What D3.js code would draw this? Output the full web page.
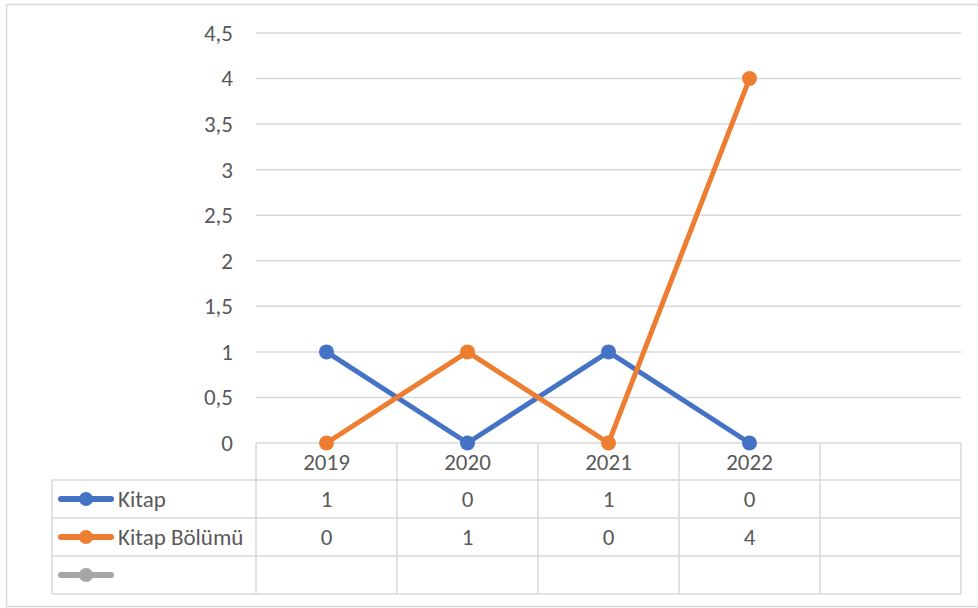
<!DOCTYPE html>
<html>
<head>
<meta charset="utf-8">
<script src="https://cdn.jsdelivr.net/npm/d3@7"></script>
<style>
  body { margin: 0; background: #fff; }
  text { font-family: Carlito, Calibri, Lato, "Open Sans", sans-serif; fill: #595959; }
</style>
</head>
<body>
<div id="chart"></div>
<script>
// data
var years = ["2019", "2020", "2021", "2022", ""]
var kitap = [1, 0, 1, 0]
var kitapBolumu = [0, 1, 0, 4]
var seriesNames = ["Kitap", "Kitap Bölümü", ""]
var seriesColors = ["#4472C4", "#ED7D31", "#A5A5A5"]
var yTicks = [0, 0.5, 1, 1.5, 2, 2.5, 3, 3.5, 4, 4.5]

var W = 978, H = 608
var fs = "23px"
var svg = d3.select("#chart").append("svg")
    .attr("width", W)
    .attr("height", H)

// chart outer border
svg.append("rect")
    .attr("x", 6.5).attr("y", 4.5)
    .attr("width", 980).attr("height", 602)
    .attr("fill", "none")
    .attr("stroke", "#d9d9d9")
    .attr("stroke-width", 1.5)

var x = d3.scaleBand()
    .domain(years)
    .range([256, 961])

var y = d3.scaleLinear()
    .domain([0, 4.5])
    .range([443, 33])

// gridlines
svg.append("g")
    .selectAll("line")
    .data(yTicks.slice(1))
    .enter().append("line")
    .attr("x1", 256).attr("x2", 961)
    .attr("y1", function (d) { return y(d) })
    .attr("y2", function (d) { return y(d) })
    .attr("stroke", "#d9d9d9")
    .attr("stroke-width", 1.5)

// y axis labels
var yAxis = d3.axisLeft(y)
    .tickValues(yTicks)
    .tickSize(0)
    .tickPadding(0)
    .tickFormat(function (d) { return String(d).replace(".", ",") })
var yg = svg.append("g")
    .attr("transform", "translate(233,0)")
    .call(yAxis)
yg.select(".domain").remove()
yg.attr("font-size", null).attr("font-family", null)
yg.selectAll("text")
    .style("font-size", fs)
    .attr("fill", "#595959")

// data table
var rowY = [443, 480, 518, 556, 594]
var tableLeft = 52
var grid = svg.append("g")
    .attr("stroke", "#d9d9d9")
    .attr("stroke-width", 1.5)
    .attr("fill", "none")

// horizontal table lines
grid.append("line").attr("x1", 256).attr("x2", 961).attr("y1", rowY[0]).attr("y2", rowY[0])
rowY.slice(1).forEach(function (yy) {
    grid.append("line").attr("x1", tableLeft).attr("x2", 961).attr("y1", yy).attr("y2", yy)
})
// vertical table lines
var colEdges = years.map(function (d) { return x(d) }).concat([x.range()[1]])
colEdges.forEach(function (xx) {
    grid.append("line").attr("x1", xx).attr("x2", xx).attr("y1", rowY[0]).attr("y2", rowY[4])
})
grid.append("line").attr("x1", tableLeft).attr("x2", tableLeft).attr("y1", rowY[1]).attr("y2", rowY[4])

// header labels
svg.append("g")
    .selectAll("text")
    .data(years)
    .enter().append("text")
    .attr("x", function (d) { return x(d) + x.bandwidth() / 2 })
    .attr("y", 470)
    .attr("text-anchor", "middle")
    .style("font-size", fs)
    .text(function (d) { return d })

var allSeries = [kitap, kitapBolumu, []]

allSeries.forEach(function (vals, i) {
    var cy = (rowY[i + 1] + rowY[i + 2]) / 2
    // legend key
    svg.append("line")
        .attr("x1", 61).attr("x2", 111)
        .attr("y1", cy).attr("y2", cy)
        .attr("stroke", seriesColors[i])
        .attr("stroke-width", 6)
        .attr("stroke-linecap", "round")
    svg.append("circle")
        .attr("cx", 86).attr("cy", cy).attr("r", 7)
        .attr("fill", seriesColors[i])
    svg.append("text")
        .attr("x", 118).attr("y", cy + 8)
        .style("font-size", fs)
        .text(seriesNames[i])
    // values
    svg.append("g")
        .selectAll("text")
        .data(vals)
        .enter().append("text")
        .attr("x", function (d, j) { return x(years[j]) + x.bandwidth() / 2 })
        .attr("y", cy + 8)
        .attr("text-anchor", "middle")
        .style("font-size", fs)
        .text(function (d) { return d })
})

// lines
var line = d3.line()
    .x(function (d, j) { return x(years[j]) + x.bandwidth() / 2 })
    .y(function (d) { return y(d) })

;[kitap, kitapBolumu].forEach(function (vals, i) {
    svg.append("path")
        .datum(vals)
        .attr("d", line)
        .attr("fill", "none")
        .attr("stroke", seriesColors[i])
        .attr("stroke-width", 5)
        .attr("stroke-linejoin", "round")
    svg.append("g")
        .selectAll("circle")
        .data(vals)
        .enter().append("circle")
        .attr("cx", function (d, j) { return x(years[j]) + x.bandwidth() / 2 })
        .attr("cy", function (d) { return y(d) })
        .attr("r", 7.5)
        .attr("fill", seriesColors[i])
})
</script>
</body>
</html>
